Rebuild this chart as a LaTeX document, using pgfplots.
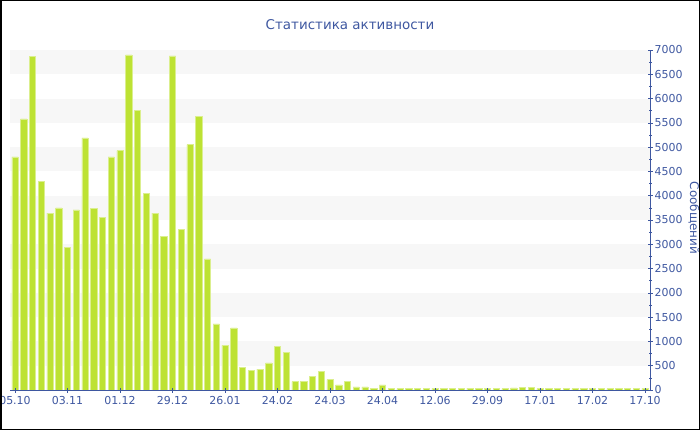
\documentclass[border=0pt]{standalone}
\usepackage{pgfplots}
\pgfplotsset{compat=1.18}
\usepackage{pgfplotstable}
\usetikzlibrary{calc}
\usepackage{fontspec}
\setmainfont{DejaVu Sans}
\definecolor{axblue}{RGB}{62,87,160}
\definecolor{barg}{RGB}{189,226,51}
\definecolor{band}{RGB}{247,247,247}
\pgfplotstableread{
idx val
0 4800
1 5580
2 6860
3 4300
4 3640
5 3750
6 2930
7 3710
8 5190
9 3740
10 3550
11 4800
12 4930
13 6900
14 5760
15 4040
16 3640
17 3170
18 6880
19 3310
20 5050
21 5630
22 2700
23 1360
24 920
25 1280
26 460
27 400
28 430
29 560
30 900
31 775
32 175
33 185
34 275
35 380
36 215
37 105
38 180
39 65
40 62
41 35
42 105
43 32
44 30
45 32
46 30
47 30
48 32
49 30
50 30
51 35
52 40
53 32
54 30
55 32
56 30
57 45
58 55
59 50
60 30
61 30
62 30
63 30
64 30
65 30
66 30
67 30
68 30
69 30
70 35
71 30
72 32
}\datatable
\begin{document}
\begin{tikzpicture}[x=1bp,y=1bp]
\begin{axis}[name=ax, scale only axis,
  width=640bp, height=340bp,
  xmin=-0.57, xmax=72.57, ymin=0, ymax=7000,
  axis x line*=bottom, axis y line*=right,
  axis line style={axblue, line width=1bp, -},
  axis on top,
  ytick distance=500, minor y tick num=1,
  xtick={0,6,...,72},
  xticklabels={05.10,03.11,01.12,29.12,26.01,24.02,24.03,24.04,12.06,29.09,17.01,17.02,17.10},
  tick style={axblue, line width=0.6bp},
  major tick length=5bp, minor tick length=3bp, tick align=center,
  ticklabel style={font=\fontsize{11}{12}\selectfont, text=axblue},
  /pgf/number format/assume math mode=true,
  /pgf/number format/1000 sep={},
  yticklabel style={anchor=west, inner sep=1bp, xshift=1bp},
  xticklabel style={inner sep=1bp, yshift=-3bp},
  clip=false,
]
\fill[band] (axis cs:-0.57,500) rectangle (axis cs:72.57,1000);
\fill[band] (axis cs:-0.57,1500) rectangle (axis cs:72.57,2000);
\fill[band] (axis cs:-0.57,2500) rectangle (axis cs:72.57,3000);
\fill[band] (axis cs:-0.57,3500) rectangle (axis cs:72.57,4000);
\fill[band] (axis cs:-0.57,4500) rectangle (axis cs:72.57,5000);
\fill[band] (axis cs:-0.57,5500) rectangle (axis cs:72.57,6000);
\fill[band] (axis cs:-0.57,6500) rectangle (axis cs:72.57,7000);
\addplot[ybar, bar width=0.7, fill=barg, draw=barg!55!white, line width=0.6bp] table[x=idx, y=val] {\datatable};
\end{axis}
\coordinate (bl) at ($(ax.south west)+(-10,-40)$);
\coordinate (tr) at ($(bl)+(700,430)$);
\node[text=axblue, font=\fontsize{13.5}{16}\selectfont] at ($(bl)+(350,405)$) {Статистика активности};
\begin{scope}
\clip (bl) rectangle (tr);
\node[text=axblue, rotate=-90, font=\fontsize{12}{14}\selectfont] at ($(bl)+(694,212)$) {Сообщений};
\end{scope}
\draw[black, line width=1.5bp] ($(bl)+(0.75,0.75)$) rectangle ($(tr)-(0.75,0.75)$);
\pgfresetboundingbox
\path[use as bounding box] (bl) rectangle (tr);
\end{tikzpicture}
\end{document}
